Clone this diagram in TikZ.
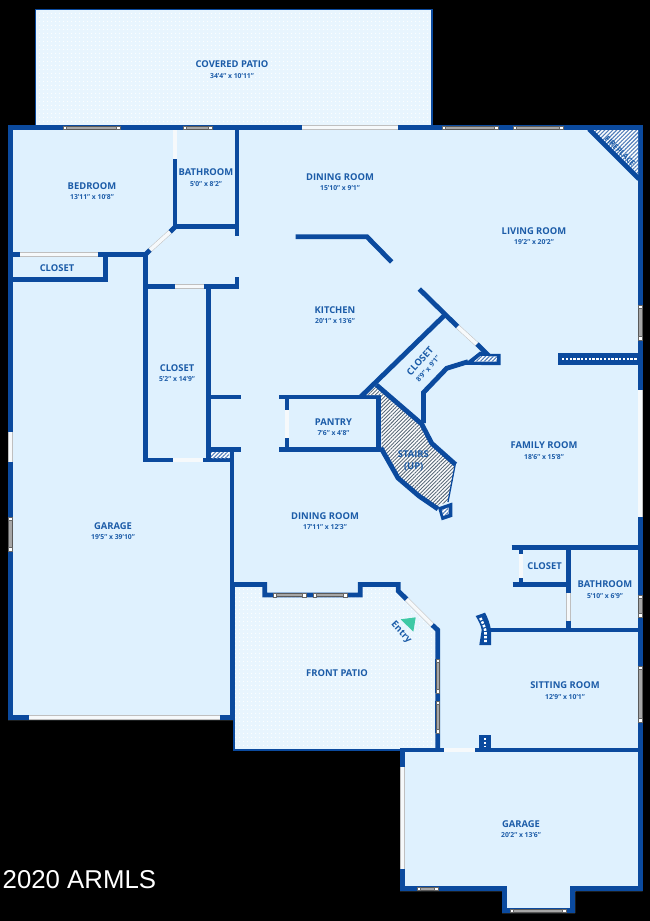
\documentclass[tikz,border=0pt]{standalone}
\usepackage{fontspec}
\setmainfont{Open Sans}
\newfontfamily\arialfont{Liberation Sans}
\usetikzlibrary{patterns.meta}
\definecolor{wallc}{HTML}{0B4A9E}
\definecolor{roomc}{HTML}{DFF1FE}
\definecolor{patioc}{HTML}{E8F5FE}
\definecolor{textc}{HTML}{1C5CA8}
\definecolor{doorc}{HTML}{F6F9FB}
\definecolor{hatchc}{HTML}{5A6B7A}
\definecolor{entryc}{HTML}{3FC9A5}
\tikzset{
  wall/.style={draw=wallc,line width=4.8pt,line join=miter,line cap=butt},
  thinwall/.style={draw=wallc,line width=1.6pt},
  door/.style={draw=black!25,line width=.5pt,double=doorc,double distance=3.6pt,line cap=butt},
  winbar/.style={fill=gray!70!white,draw=black!65,line width=.5pt},
  winend/.style={fill=white,draw=black!60,line width=.4pt},
  roomname/.style={text=textc,font=\bfseries\fontsize{9.4}{11}\selectfont,inner sep=0pt},
  roomsize/.style={text=textc,font=\bfseries\fontsize{6.8}{8}\selectfont,inner sep=0pt},
  stairhatch/.style={pattern={Lines[angle=45,distance=2.6pt,line width=.9pt]},pattern color=hatchc},
  lighthatch/.style={fill=white,postaction={pattern={Lines[angle=45,distance=2.8pt,line width=1.1pt]},pattern color=wallc!70!white}},
  whitedash/.style={draw=white,line width=2.6pt,dash pattern=on 2.4pt off 1.4pt},
  patiodots/.style={pattern={Dots[distance=4pt,radius=.7pt]},pattern color=white},
}
\newcommand{\hwin}[3]{%
  \fill[wallc] (#1,#3-2.4) rectangle (#2,#3+2.4);
  \draw[winbar] (#1+2,#3-1.7) rectangle (#2-2,#3+1.7);
  \draw[winend] (#1,#3-1.7) rectangle (#1+3.4,#3+1.7);
  \draw[winend] (#2-3.4,#3-1.7) rectangle (#2,#3+1.7);
}
\newcommand{\vwin}[3]{%
  \fill[wallc] (#3-2.4,#1) rectangle (#3+2.4,#2);
  \draw[winbar] (#3-1.7,#1+2) rectangle (#3+1.7,#2-2);
  \draw[winend] (#3-1.7,#1) rectangle (#3+1.7,#1+3.4);
  \draw[winend] (#3-1.7,#2-3.4) rectangle (#3+1.7,#2);
}
\begin{document}
\begin{tikzpicture}[x=1pt,y=-1pt]
\useasboundingbox (0,0) rectangle (650,921);
\fill[black] (0,0) rectangle (650,921);
% floor fills
\fill[roomc] (8,125) -- (642.5,125) -- (642.5,891) -- (575,891) -- (575,913) -- (502,913) -- (502,891) -- (400,891) -- (400,750) -- (234,750) -- (234,720) -- (8,720) -- cycle;
\fill[patioc] (35,9) rectangle (432,126);
\fill[patiodots] (35,9) rectangle (432,126);
\draw[thinwall] (432,126) -- (432,9.5) -- (35.5,9.5) -- (35.5,126);
\fill[patioc] (234,584) -- (264,584) -- (264,595) -- (360,595) -- (360,584) -- (398,584) -- (398,591) -- (438,630) -- (438,749) -- (234,749) -- cycle;
\fill[patiodots] (234,586) -- (262,586) -- (262,597) -- (362,597) -- (362,586) -- (396,586) -- (396,592) -- (436,631) -- (436,748) -- (234,748) -- cycle;
% outer walls
\draw[wall] (8,127.5) -- (642,127.5) (10.3,125.1) -- (10.3,720) (8,717.6) -- (234,717.6);
\draw[wall] (640.2,125.1) -- (640.2,891) (642.6,888.7) -- (572.5,888.7) -- (572.5,910.6) -- (504.5,910.6) -- (504.5,888.7) -- (402.5,888.7) -- (402.5,748);
\draw[wall] (232,447.3) -- (232,720);
\draw[door] (302,127.5) -- (398,127.5);
\draw[door] (10.3,432) -- (10.3,462);
\draw[door] (29,717.6) -- (220,717.6);
\draw[door] (640.2,390) -- (640.2,517);
\draw[door] (402.5,767) -- (402.5,869);
% fireplace living room
\fill[lighthatch] (589,130) -- (638,130) -- (638,178) -- cycle;
\draw[wall] (589,129) -- (639,179);
\node[text=textc,font=\bfseries\fontsize{7.6}{9}\selectfont,rotate=-45,inner sep=0pt] (fireplace) at (620,151) {FIREPLACE};
% bedroom and bathroom
\draw[wall] (175,159) -- (175,226.6) -- (239,226.6);
\draw[wall] (237,130) -- (237,235.5);
\draw[door] (175,130) -- (175,159);
\draw[wall] (176,226) -- (170,232);
\draw[door] (170,232) -- (149,251);
\draw[wall] (150,250) -- (145.5,254.5);
\draw[wall] (12,254.6) -- (20,254.6);
\draw[door] (20,254.6) -- (98,254.6);
\draw[wall] (98,254.6) -- (147.5,254.6);
\draw[wall] (105.5,254.6) -- (105.5,281.8) (12,279.6) -- (107.5,279.6);
% long closet
\draw[wall] (145.5,252.5) -- (145.5,462.2);
\draw[wall] (145.5,286.4) -- (175,286.4);
\draw[door] (175,286.4) -- (204,286.4);
\draw[wall] (204,286.4) -- (239,286.4) (237,277) -- (237,288);
\draw[wall] (208.2,286.4) -- (208.2,462);
\draw[wall] (208.2,397) -- (241,397) (208.2,449.6) -- (241,449.6);
\draw[wall] (143.5,460) -- (173,460);
\draw[door] (173,460) -- (203,460);
\draw[wall] (203,460) -- (234,460);
\fill[lighthatch] (211,452) rectangle (229,458);
% dining partial wall
\draw[wall] (295.5,236.8) -- (367,236.8) -- (391.7,262);
% pantry
\draw[wall] (279,397) -- (381,397) (279,449.6) -- (383,449.6);
\draw[wall] (287,397) -- (287,410) (287,438) -- (287,449.6);
\draw[door] (287,410) -- (287,438);
\draw[wall] (378.6,395) -- (378.6,451);
% stairs hatch
\fill[white] (381,395) -- (378,385) -- (421.7,422) -- (431.7,443.3) -- (455,464) -- (448,501.7) -- (435,506.7) -- (398,478) -- (381.7,448.3) -- cycle;
\fill[stairhatch] (381,395) -- (378,385) -- (421.7,422) -- (431.7,443.3) -- (455,464) -- (448,501.7) -- (435,506.7) -- (398,478) -- (381.7,448.3) -- cycle;
\fill[white] (366,395) -- (376,387) -- (381,395) -- cycle;
\fill[stairhatch] (366,395) -- (376,387) -- (381,395) -- cycle;
\draw[wall] (360.5,397) -- (445,314.8);
\draw[wall] (376.5,385) -- (421.7,424) -- (431.7,443.3) -- (455.5,464.5);
\draw[draw=wallc,line width=1.3pt] (455.3,464) -- (448,502);
\draw[wall] (381,448) -- (398,478) -- (419,496) -- (438,509);
% newel diamond
\path[fill=wallc] (438,507.5) -- (452.3,502.5) -- (452.3,516.8) -- (441.7,520.3) -- cycle;
\fill[lighthatch] (441.8,510) -- (448.5,507.5) -- (448.5,514) -- (443.4,515.8) -- cycle;
% angled closet
\draw[wall] (419.3,289) -- (457.7,326.7);
\draw[door] (457.7,326.7) -- (477.7,345);
\draw[wall] (477,344) -- (490,357);
\path[fill=wallc] (463,364.8) -- (480,351.5) -- (486,353.8) -- (500.7,353.8) -- (500.7,365.2) -- cycle;
\fill[lighthatch] (474,361.5) -- (480.5,356) -- (497,356.5) -- (496.5,361.5) -- cycle;
\draw[wall] (468,361.7) -- (446.7,368.3) -- (423.5,392.5) -- (423.5,423);
% divider
\fill[wallc] (557.7,353) rectangle (638,365);
\draw[whitedash] (562,359) -- (637,359);
% lower right rooms
\draw[wall] (511.7,547.4) -- (640,547.4);
\draw[wall] (568.3,547.4) -- (568.3,593);
\draw[door] (568.3,593) -- (568.3,621);
\draw[wall] (568.3,621) -- (568.3,630);
\draw[wall] (512.7,584.4) -- (568.3,584.4);
\draw[wall] (521,547.4) -- (521,554) (521,578) -- (521,584.4);
\draw[door] (521,554) -- (521,578);
\draw[wall] (490,630) -- (640,630);
% curved fireplace
\path[fill=wallc] (475.7,616) -- (485,612.7) .. controls (488,618) and (490,624) .. (491,630) -- (491,645) -- (479.3,645) -- (481.7,630) .. controls (481,625) and (478,620) .. cycle;
\draw[whitedash] (480.3,618) .. controls (483,623) and (485,628) .. (485.5,632) -- (485.5,642);
% front patio walls
\draw[wall] (232,584.5) -- (264.8,584.5) -- (264.8,595) -- (360.3,595) -- (360.3,584.5) -- (398.3,584.5) -- (398.3,591) -- (406.7,599.3);
\draw[door] (406.7,599.3) -- (432.3,625);
\draw[wall] (432.3,625) -- (437.7,630) -- (437.7,750);
\draw[thinwall] (234,584) -- (234,750) -- (402,750);
\draw[wall] (400,750) -- (444,750);
\draw[door] (444,750) -- (475,750);
\draw[wall] (475,750) -- (642,750);
\fill[wallc] (479,735) rectangle (491,751);
\draw[whitedash] (485,738) -- (485,747);
\path[fill=entryc] (400.7,619.3) -- (415.7,617.3) -- (413.3,631.7) -- cycle;
% windows
\hwin{63}{120}{127.5}
\hwin{183}{212}{127.5}
\hwin{442}{498}{127.5}
\hwin{513}{563}{127.5}
\hwin{273}{306}{595}
\hwin{313}{347}{595}
\hwin{417}{438}{888.7}
\hwin{510}{566}{910.6}
\vwin{517}{551}{10.3}
\vwin{305}{340}{640.2}
\vwin{595}{617}{640.2}
\vwin{666}{722}{640.2}
\vwin{659}{693}{437.7}
\vwin{701}{733}{437.7}
% labels
\node[roomname] (n1) at (232,64.5) {COVERED PATIO};
\node[roomsize] (s1) at (232,76) {34'4" x 10'11"};
\node[roomname] (n2) at (92,186) {BEDROOM};
\node[roomsize] (s2) at (92,197) {13'11" x 10'8"};
\node[roomname] (n3) at (206,172.5) {BATHROOM};
\node[roomsize] (s3) at (206,184) {5'0" x 8'2"};
\node[roomname] (n4) at (57,268) {CLOSET};
\node[roomname] (n5) at (340,177) {DINING ROOM};
\node[roomsize] (s5) at (340,188.5) {15'10" x 9'1"};
\node[roomname] (n6) at (534,231) {LIVING ROOM};
\node[roomsize] (s6) at (534,242.5) {19'2" x 20'2"};
\node[roomname] (n7) at (335,310) {KITCHEN};
\node[roomsize] (s7) at (335,321) {20'1" x 13'6"};
\node[roomname] (n8) at (177,368) {CLOSET};
\node[roomsize] (s8) at (177,379) {5'2" x 14'9"};
\node[roomname,rotate=48] (n9) at (420,361) {CLOSET};
\node[roomsize,rotate=48] (s9) at (428,369) {8'9" x 9'1"};
\node[roomname] (n10) at (333.5,422) {PANTRY};
\node[roomsize] (s10) at (333.5,433) {7'6" x 4'8"};
\node[roomname] (n11) at (413.3,454.5) {STAIRS};
\node[roomname] (s11) at (413.7,467) {(UP)};
\node[roomname] (n12) at (544,445) {FAMILY ROOM};
\node[roomsize] (s12) at (544,457) {18'6" x 15'8"};
\node[roomname] (n13) at (325,516) {DINING ROOM};
\node[roomsize] (s13) at (325,527.5) {17'11" x 12'3"};
\node[roomname] (n14) at (113,526.5) {GARAGE};
\node[roomsize] (s14) at (113,537.5) {19'5" x 39'10"};
\node[roomname] (n15) at (337,673) {FRONT PATIO};
\node[roomname] (n16) at (544.5,566) {CLOSET};
\node[roomname] (n17) at (605,584.5) {BATHROOM};
\node[roomsize] (s17) at (605,596) {5'10" x 6'9"};
\node[roomname] (n18) at (565,685.5) {SITTING ROOM};
\node[roomsize] (s18) at (565,697) {12'9" x 10'1"};
\node[roomname] (n19) at (521,824.5) {GARAGE};
\node[roomsize] (s19) at (521,835.5) {20'2" x 13'6"};
\node[roomname,rotate=-47] (entry) at (401,632.5) {Entry};
\node[text=white,font=\arialfont\fontsize{25.8}{28}\selectfont,anchor=west,inner sep=0pt] (armls) at (2.5,880) {2020 ARMLS};
\end{tikzpicture}
\end{document}
